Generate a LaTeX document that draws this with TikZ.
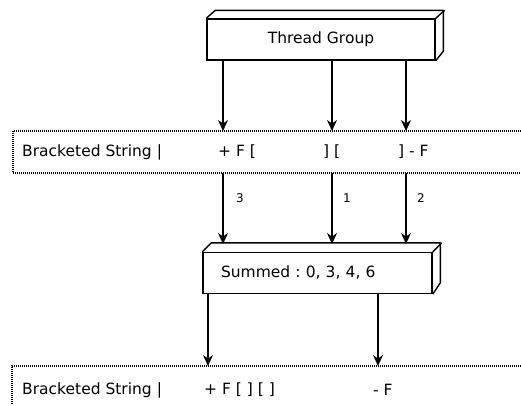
\documentclass[tikz,border=0pt]{standalone}
\usepackage{fontspec}
\setmainfont{DejaVu Sans}
\usetikzlibrary{arrows.meta}
\usetikzlibrary{positioning}
\frenchspacing

\tikzset{
  box/.style={draw, line width=1.4pt, minimum height=41pt, inner sep=0pt, font=\fontsize{15.5}{17}\selectfont},
  flow/.style={-{Stealth[length=11pt,width=10pt]}, line width=1.3pt},
  strip/.style={dash pattern=on 1pt off 1pt, line width=1.1pt},
  txt/.style={anchor=west, inner sep=0pt, font=\fontsize{15.5}{17}\selectfont},
  num/.style={anchor=west, inner sep=0pt, font=\fontsize{12}{13}\selectfont}
}

\begin{document}
\begin{tikzpicture}[x=1pt, y=-1pt]
    \useasboundingbox (0,0) rectangle (521,405);
    % boxes
    \node [box, minimum width=228pt] (group) at (321, 39.5) {Thread Group};
    \draw [line width=1.4pt, line join=round] (group.north west) -- ++(9,-8) -- ++(228,0) -- ++(0,41) -- (group.south east);
    \draw [line width=1.4pt] (group.north east) -- ++(9,-8);
    \node [box, minimum width=229pt, text width=193pt, inner xsep=18pt, align=left] (sum) at (317.5, 273) {Summed : 0, 3, 4, 6};
    \draw [line width=1.4pt, line join=round] (sum.north west) -- ++(9,-9) -- ++(229,0) -- ++(0,40) -- (sum.south east);
    \draw [line width=1.4pt] (sum.north east) -- ++(9,-9);
    % strips
    \coordinate (s1top) at (0,131);
    \coordinate (s1bot) at (0,173);
    \coordinate (s2top) at (0,366);
    \coordinate (sumtop) at (0,244);
    \draw [strip] (521,131) -| (13,173) -- (521,173);
    \draw [strip] (521,366) -| (12,405);
    \node [txt] (bs1) at (22,152) {Bracketed String |};
    \node [txt] (t1) at (218,152) {+ F [};
    \node [txt] (t2) at (323,152) {] [};
    \node [txt] (t3) at (398,152) {] - F};
    \node [txt] (bs2) at (22,390) {Bracketed String |};
    \node [txt] (u1) at (204,390) {+ F [ ] [ ]};
    \node [txt] (u2) at (373,390) {- F};
    % arrows
    \foreach \name/\x in {a/223, b/332, c/406, d/208, e/378}
        \coordinate (\name) at (\x,0);
    \foreach \name in {a,b,c} {
        \draw [flow] (group.south -| \name) -- (\name |- s1top);
        \draw [flow] (\name |- s1bot) -- (\name |- sumtop);
    }
    \foreach \name in {d,e}
        \draw [flow] (sum.south -| \name) -- (\name |- s2top);
    \node [num] (n3) at (236,198) {3};
    \node [num] (n1) at (343,198) {1};
    \node [num] (n2) at (417,198) {2};
\end{tikzpicture}
\end{document}
